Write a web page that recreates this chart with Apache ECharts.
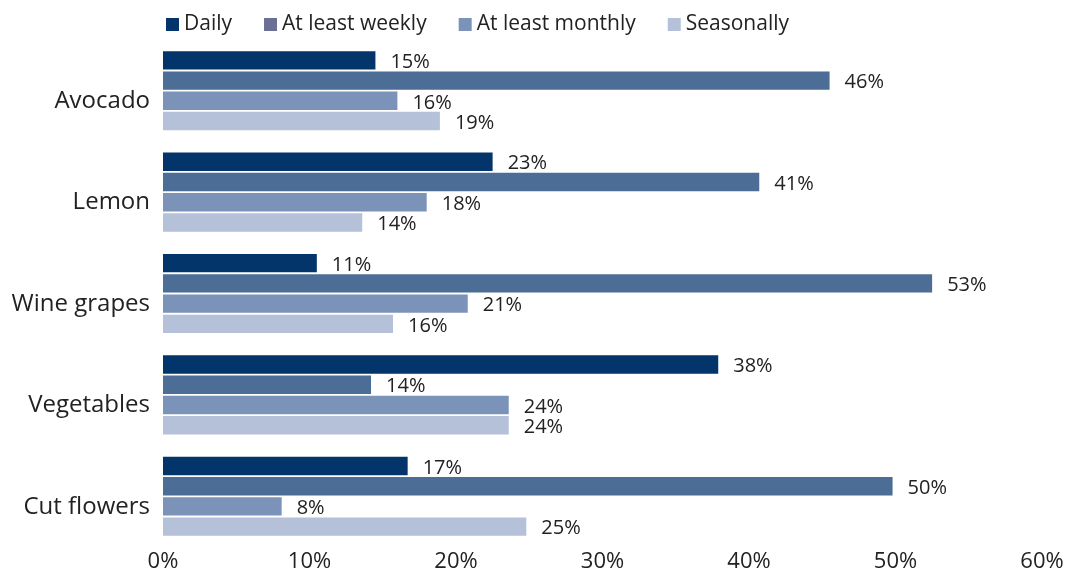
<!DOCTYPE html>
<html>
<head>
<meta charset="utf-8">
<script src="https://cdn.jsdelivr.net/npm/echarts@6/dist/echarts.min.js"></script>
<style>
  html, body { margin: 0; padding: 0; background: #fff; }
  #chart { width: 1077px; height: 579px; }
</style>
</head>
<body>
<div id="chart"></div>
<script>
const categories = ['Avocado', 'Lemon', 'Wine grapes', 'Vegetables', 'Cut flowers'];
const daily = [14.5, 22.5, 10.5, 37.9, 16.7];
const weekly = [45.5, 40.7, 52.5, 14.2, 49.8];
const monthly = [16.0, 18.0, 20.8, 23.6, 8.1];
const seasonally = [18.9, 13.6, 15.7, 23.6, 24.8];
const seriesNames = ['Daily', 'At least weekly', 'At least monthly', 'Seasonally'];
const barColors = ['#03356a', '#4b6d96', '#7b93b8', '#b4c1d8'];
const legendColors = ['#03356a', '#6b6f94', '#7b93b8', '#b4c1d8'];
const xTicks = [0, 10, 20, 30, 40, 50, 60];

const chart = echarts.init(document.getElementById('chart'));

const values = [daily, weekly, monthly, seasonally];
const series = [];
for (let i = 0; i < values.length; i++) {
    series.push({
        name: seriesNames[i],
        type: 'bar',
        data: values[i],
        barGap: '10%',
        barCategoryGap: '22%',
        itemStyle: { color: barColors[i] },
        label: {
            show: true,
            position: 'right',
            distance: 15,
            offset: [0, 2],
            color: '#222',
            fontSize: 20,
            fontFamily: 'Open Sans',
            formatter: p => Math.round(p.value) + '%'
        }
    });
}

const option = {
    animation: false,
    legend: {
        left: 161,
        top: 9,
        itemWidth: 13,
        itemHeight: 13,
        itemGap: 32,
        icon: 'rect',
        textStyle: { fontSize: 21, color: '#222', fontFamily: 'Open Sans' },
        data: seriesNames.map((n, i) => ({ name: n, itemStyle: { color: legendColors[i] } }))
    },
    grid: { left: 163, right: 35, top: 40, bottom: 32 },
    xAxis: {
        type: 'value',
        min: xTicks[0],
        max: xTicks[xTicks.length - 1],
        interval: 10,
        splitLine: { show: false },
        axisLine: { show: false },
        axisTick: { show: false },
        axisLabel: {
            margin: 4,
            fontSize: 22,
            color: '#222',
            fontFamily: 'Open Sans',
            formatter: v => v + '%'
        }
    },
    yAxis: {
        type: 'category',
        data: categories,
        inverse: true,
        axisLine: { show: false },
        axisTick: { show: false },
        axisLabel: {
            margin: 13,
            fontSize: 24,
            lineHeight: 21,
            verticalAlign: 'top',
            color: '#222',
            fontFamily: 'Open Sans'
        }
    },
    series: series
};

chart.setOption(option);
</script>
</body>
</html>
